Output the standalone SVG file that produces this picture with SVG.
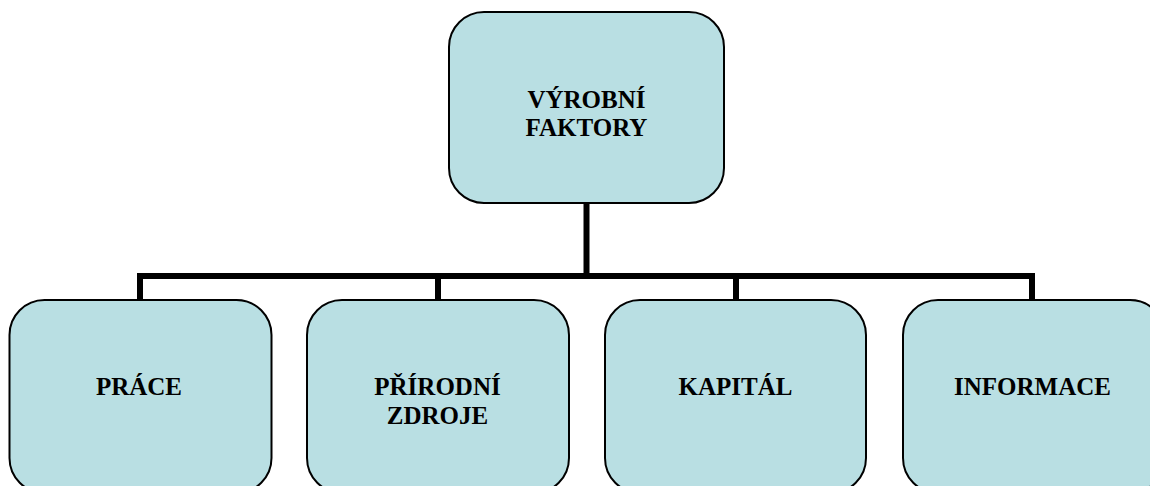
<svg xmlns="http://www.w3.org/2000/svg" width="1150" height="486" viewBox="0 0 1150 486">
<style>
.node{fill:#b9dfe3;stroke:#000;stroke-width:2}
.lbl{font-family:'Liberation Serif','DejaVu Serif',serif;font-weight:bold;font-size:25px;fill:#000;text-anchor:middle}
.conn{fill:none;stroke:#000;stroke-width:6;stroke-linejoin:miter;stroke-linecap:butt}
</style>
<rect width="1150" height="486" fill="#fff"/>
<g id="connectors">
<path class="conn" d="M140 300 V276 H1032 V300"/>
<path class="conn" d="M586.5 203 V276"/>
<path class="conn" d="M438 276 V300"/>
<path class="conn" d="M736 276 V300"/>
</g>
<g id="vyrobni-faktory">
<rect class="node" x="449" y="12" width="275" height="191" rx="35" ry="35"/>
<text class="lbl" font-family="Liberation Serif, serif" x="586.5" y="108">VÝROBNÍ</text>
<text class="lbl" font-family="Liberation Serif, serif" x="586.5" y="136">FAKTORY</text>
</g>
<g id="prace">
<rect class="node" x="9.5" y="300" width="262" height="193" rx="35" ry="35"/>
<text class="lbl" font-family="Liberation Serif, serif" x="139" y="395">PRÁCE</text>
</g>
<g id="prirodni-zdroje">
<rect class="node" x="307" y="300" width="262" height="193" rx="35" ry="35"/>
<text class="lbl" font-family="Liberation Serif, serif" x="437.5" y="395">PŘÍRODNÍ</text>
<text class="lbl" font-family="Liberation Serif, serif" x="437.5" y="424">ZDROJE</text>
</g>
<g id="kapital">
<rect class="node" x="605" y="300" width="261" height="193" rx="35" ry="35"/>
<text class="lbl" font-family="Liberation Serif, serif" x="735.5" y="395">KAPITÁL</text>
</g>
<g id="informace">
<rect class="node" x="903" y="300" width="262" height="193" rx="35" ry="35"/>
<text class="lbl" font-family="Liberation Serif, serif" x="1032.5" y="395">INFORMACE</text>
</g>
</svg>
